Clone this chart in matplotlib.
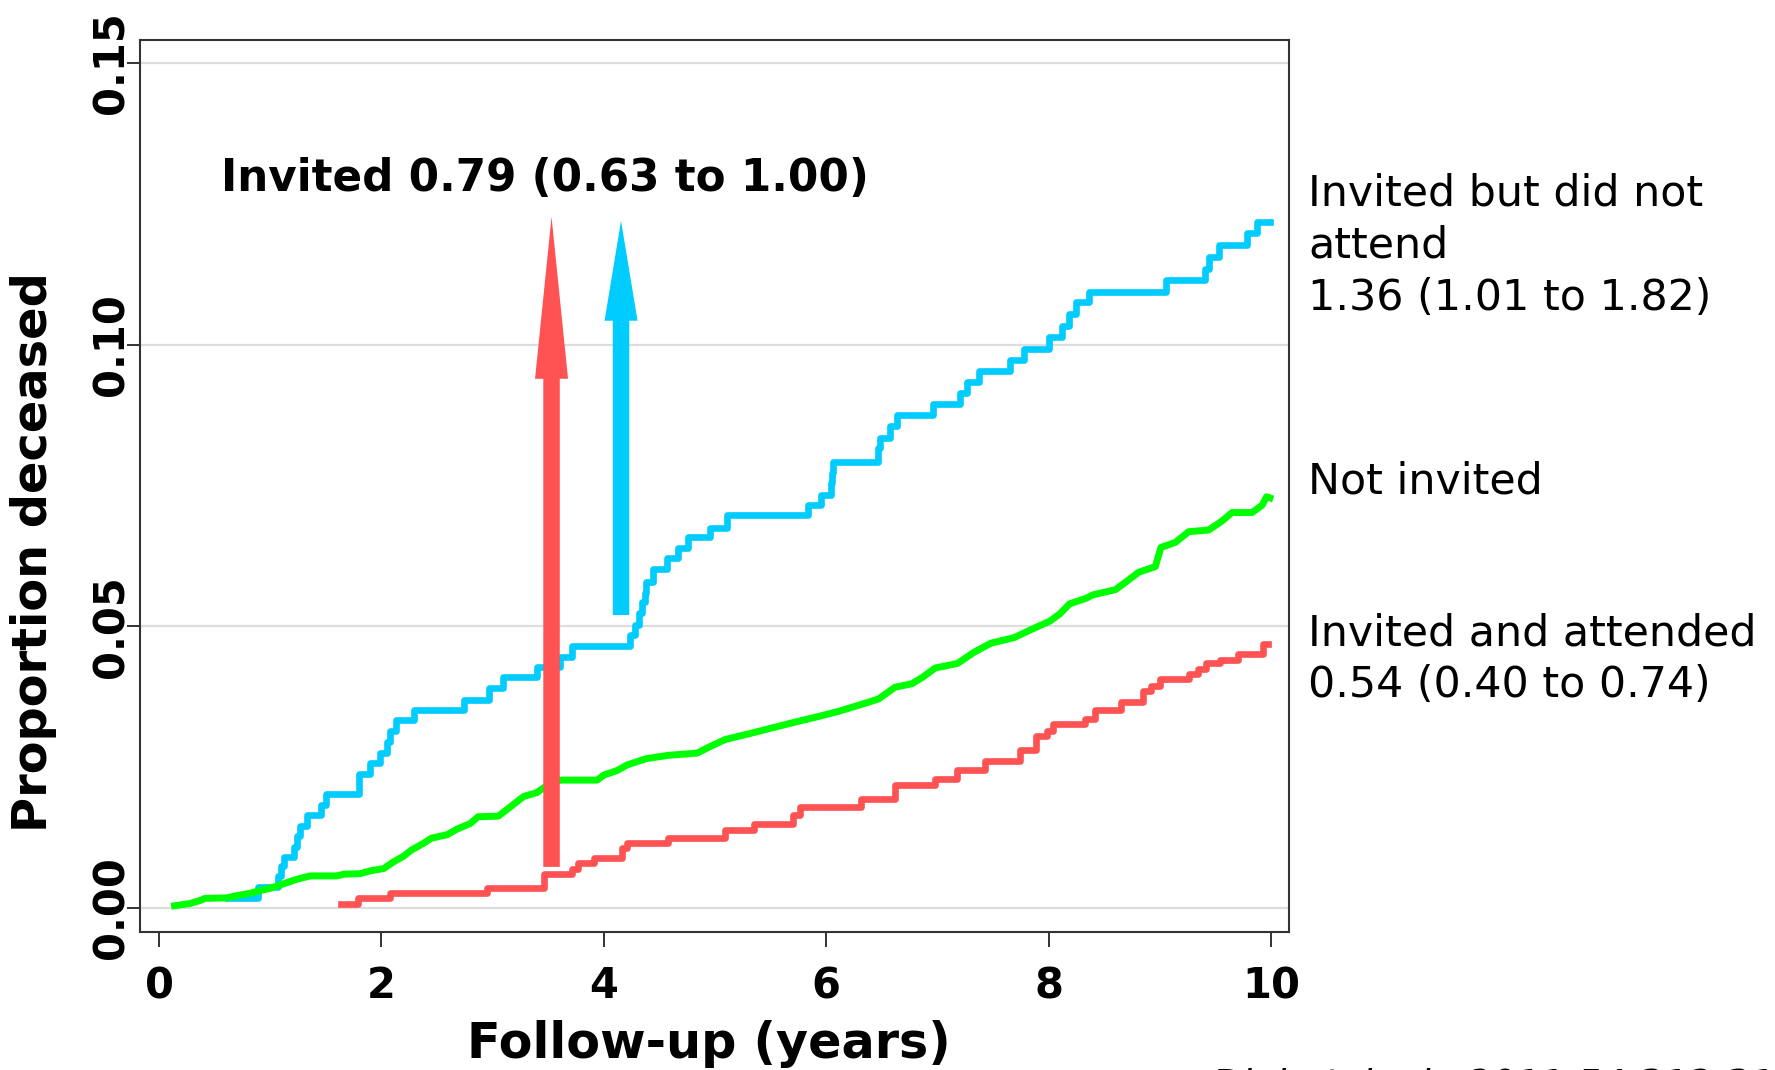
import matplotlib
matplotlib.use("Agg")
import matplotlib.pyplot as plt
from matplotlib.patches import FancyArrow

# ---------------- data ----------------
# Invited but did not attend (step function)
nonatt_t = [0.62, 0.89, 1.07, 1.10, 1.12, 1.21, 1.24, 1.27, 1.33, 1.46, 1.50, 1.80, 1.90, 1.99,
            2.05, 2.08, 2.13, 2.29, 2.74, 2.97, 3.09, 3.40, 3.61, 3.71, 4.24, 4.28, 4.32, 4.34,
            4.37, 4.38, 4.445, 4.57, 4.67, 4.76, 4.955, 5.105, 5.84, 5.95, 6.04, 6.055, 6.064,
            6.47, 6.48, 6.57, 6.634, 6.963, 7.20, 7.27, 7.37, 7.65, 7.78, 8.00, 8.12, 8.18, 8.25,
            8.36, 9.06, 9.41, 9.44, 9.535, 9.78, 9.877, 9.99]
nonatt_p = [0.0018, 0.0037, 0.0056, 0.0074, 0.0091, 0.0109, 0.0127, 0.0146, 0.0165, 0.0183,
            0.0202, 0.0238, 0.0257, 0.0276, 0.0295, 0.0314, 0.0334, 0.0351, 0.0370, 0.0390,
            0.0410, 0.0428, 0.0446, 0.0465, 0.0485, 0.0503, 0.0523, 0.0543, 0.0560, 0.0578,
            0.0601, 0.0621, 0.0639, 0.0658, 0.0675, 0.0698, 0.0715, 0.0734, 0.0754, 0.0773,
            0.0792, 0.0816, 0.0834, 0.0855, 0.0875, 0.0895, 0.0914, 0.0934, 0.0954, 0.0973,
            0.0993, 0.1014, 0.1034, 0.1054, 0.1075, 0.1094, 0.1115, 0.1135, 0.1156, 0.1177,
            0.1198, 0.1217, 0.1217]

# Invited and attended (step function)
att_t = [1.634, 1.79, 2.08, 2.95, 3.46, 3.71, 3.77, 3.91, 4.16, 4.21, 4.58, 5.09, 5.35, 5.70,
         5.76, 6.31, 6.62, 6.98, 7.18, 7.43, 7.74, 7.89, 7.99, 8.04, 8.33, 8.42, 8.65, 8.85,
         8.92, 9.00, 9.26, 9.34, 9.42, 9.54, 9.70, 9.93, 9.97]
att_p = [0.0007, 0.0017, 0.0026, 0.0035, 0.0061, 0.0070, 0.0079, 0.0088, 0.0106, 0.0115,
         0.0124, 0.0139, 0.0149, 0.0165, 0.0180, 0.0193, 0.0219, 0.0229, 0.0245, 0.0261,
         0.0281, 0.0305, 0.0315, 0.0326, 0.0336, 0.0351, 0.0366, 0.0385, 0.0394, 0.0407,
         0.0416, 0.0425, 0.0435, 0.0441, 0.0450, 0.0469, 0.0469]

# Not invited (fine steps, drawn as a line)
notinv_t = [0.14, 0.28, 0.38, 0.41, 0.61, 0.70, 0.82, 0.89, 1.00, 1.15, 1.24, 1.36, 1.60, 1.66,
            1.81, 1.90, 2.02, 2.11, 2.20, 2.27, 2.38, 2.45, 2.59, 2.68, 2.80, 2.87, 3.05, 3.13,
            3.22, 3.28, 3.40, 3.47, 3.61, 3.94, 4.00, 4.12, 4.21, 4.38, 4.58, 4.84, 4.94, 5.09,
            5.30, 5.50, 5.70, 5.91, 6.11, 6.31, 6.47, 6.62, 6.77, 6.87, 6.98, 7.18, 7.33, 7.48,
            7.69, 7.84, 8.01, 8.10, 8.19, 8.34, 8.40, 8.60, 8.69, 8.81, 8.96, 9.01, 9.14, 9.26,
            9.44, 9.56, 9.65, 9.83, 9.92, 9.96, 9.99]
notinv_p = [0.0004, 0.0008, 0.0014, 0.0017, 0.0018, 0.0022, 0.0026, 0.0030, 0.0035, 0.0045,
            0.0051, 0.0057, 0.0057, 0.0060, 0.0061, 0.0066, 0.0070, 0.0082, 0.0092, 0.0103,
            0.0115, 0.0124, 0.0130, 0.0140, 0.0150, 0.0162, 0.0163, 0.0175, 0.0189, 0.0198,
            0.0205, 0.0215, 0.0227, 0.0227, 0.0236, 0.0244, 0.0254, 0.0265, 0.0271, 0.0275,
            0.0285, 0.0299, 0.0309, 0.0319, 0.0329, 0.0339, 0.0349, 0.0361, 0.0371, 0.0392,
            0.0398, 0.0410, 0.0426, 0.0434, 0.0454, 0.0470, 0.0480, 0.0494, 0.0509, 0.0522,
            0.0540, 0.0550, 0.0556, 0.0565, 0.0578, 0.0596, 0.0606, 0.0640, 0.0649, 0.0668,
            0.0671, 0.0687, 0.0702, 0.0702, 0.0715, 0.0730, 0.0728]

# arrows: (x position, start, end)
arrow_red = (3.53, 0.0073, 0.1227)
arrow_blue = (4.155, 0.052, 0.122)

x_ticks = [0, 2, 4, 6, 8, 10]
y_ticks = [0.00, 0.05, 0.10, 0.15]
y_tick_labels = ["0.00", "0.05", "0.10", "0.15"]

label_invited = "Invited 0.79 (0.63 to 1.00)"
label_nonatt = ["Invited but did not", "attend", "1.36 (1.01 to 1.82)"]
label_notinv = ["Not invited"]
label_att = ["Invited and attended", "0.54 (0.40 to 0.74)"]
citation = "Diabetologia 2011;54:312-319"

BLUE = "#00CCFF"
GREEN = "#00FF00"
RED = "#FF5252"

# ---------------- figure ----------------
W, H = 1775, 1070
plt.rcParams["font.family"] = ["DejaVu Sans"]
fig = plt.figure(figsize=(W / 100, H / 100), dpi=100)
fig.patch.set_facecolor("white")

L, R, T, B = 140, 1289, 40, 932
ax = fig.add_axes([L / W, 1 - B / H, (R - L) / W, (B - T) / H])
ax.set_xlim(-0.171, 10.162)
ax.set_ylim(-0.00426, 0.15408)

for sp in ax.spines.values():
    sp.set_color("#333333")
    sp.set_linewidth(1.5)

ax.set_yticks(y_ticks)
ax.set_yticklabels(y_tick_labels)
ax.set_xticks(x_ticks)
ax.tick_params(axis="x", length=10.8, width=1.4, color="#333333", pad=13,
               labelsize=30)
ax.tick_params(axis="y", length=9.4, width=1.4, color="#333333", pad=-4,
               labelsize=30, labelrotation=90)
for lab in ax.get_xticklabels() + ax.get_yticklabels():
    lab.set_fontweight("bold")
for lab in ax.get_yticklabels():
    lab.set_verticalalignment("center")

ax.grid(axis="y", color="#dddddd", linewidth=1.6)
ax.grid(axis="x", visible=False)
ax.set_axisbelow(True)

ax.step(nonatt_t, nonatt_p, where="post", color=BLUE, lw=4.8, zorder=3)
ax.plot(notinv_t, notinv_p, color=GREEN, lw=5.0, zorder=3, solid_joinstyle="round")
ax.step(att_t, att_p, where="post", color=RED, lw=4.8, zorder=3)

px_x = 111.2   # px per year
px_y = 5633.0  # px per unit proportion
for (xa, y0, y1), col, hl_px in ((arrow_red, RED, 162), (arrow_blue, BLUE, 100)):
    arr = FancyArrow(xa, y0, 0, y1 - y0, width=16.5 / px_x, head_width=33 / px_x,
                     head_length=hl_px / px_y, length_includes_head=True,
                     color=col, linewidth=0, zorder=5)
    ax.add_patch(arr)

ax.text(0.56, 0.1272, label_invited, fontsize=31.4, fontweight="bold",
        ha="left", va="baseline", zorder=6)

def put_lines(lines, x_px, base_px, step=52):
    for i, s in enumerate(lines):
        fig.text(x_px / W, 1 - (base_px + i * step) / H, s, fontsize=30.8,
                 ha="left", va="baseline")

put_lines(label_nonatt, 1308, 206)
put_lines(label_notinv, 1308, 494)
put_lines(label_att, 1308, 645)

fig.text(709 / W, 1 - 1058 / H, "Follow-up (years)", fontsize=35.5, fontweight="bold",
         ha="center", va="baseline")
fig.text(34 / W, 1 - 552 / H, "Proportion deceased", fontsize=34.5, fontweight="bold",
         rotation=90, ha="center", va="center")

fig.text(1212 / W, 1 - 1096 / H, citation, fontsize=27.5, style="italic",
         ha="left", va="baseline")

fig.savefig("out.png", dpi=100)
